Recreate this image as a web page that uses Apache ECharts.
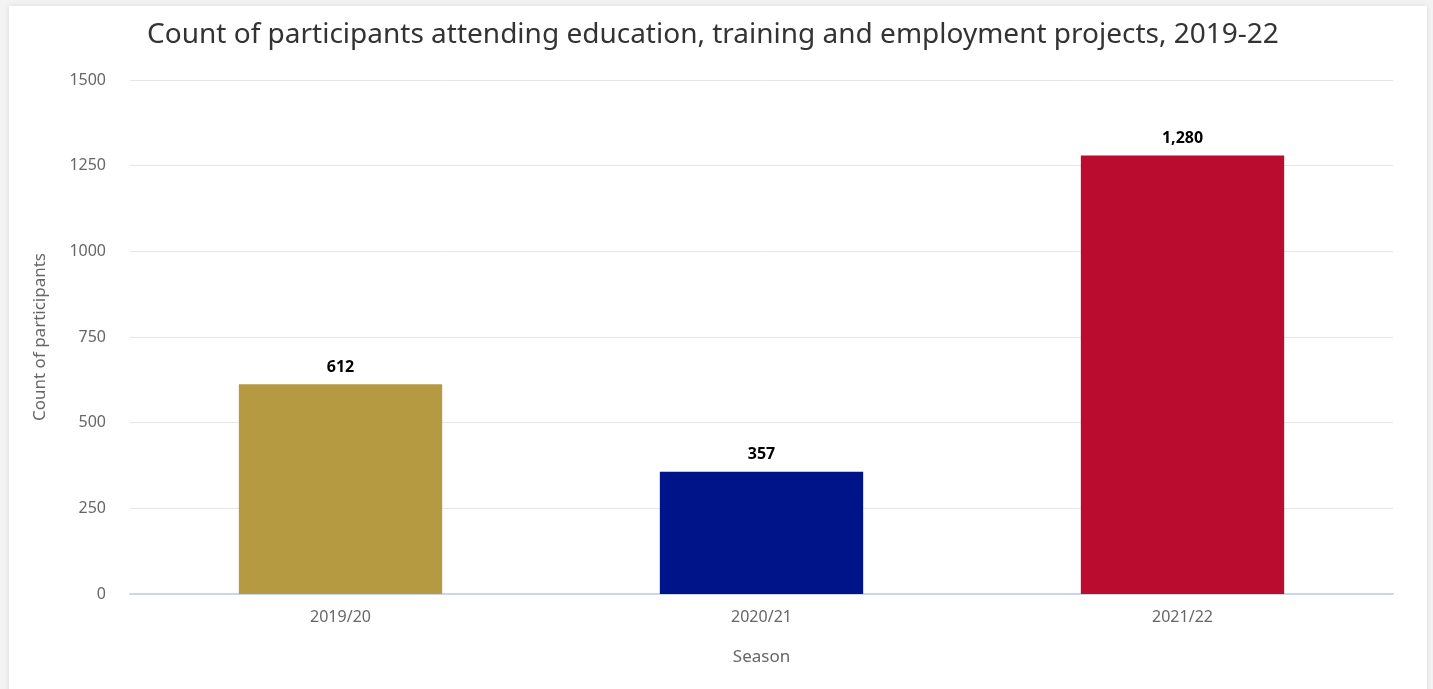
<!DOCTYPE html>
<html>
<head>
<meta charset="utf-8">
<script src="https://cdn.jsdelivr.net/npm/echarts@6/dist/echarts.min.js"></script>
<style>
  html, body { margin: 0; padding: 0; background: #f3f3f3; overflow: hidden; }
  #card { position: absolute; left: 9px; top: 6px; width: 1418px; height: 700px; background: #fff;
          box-shadow: 0 0 6px rgba(0,0,0,0.10); }
  #chart { position: absolute; left: 0; top: 0; width: 1433px; height: 689px; }
</style>
</head>
<body>
<div id="card"></div>
<div id="chart"></div>
<script>
const seasons = ['2019/20', '2020/21', '2021/22'];
const participants = [612, 357, 1280];
const barColors = ['#b59a41', '#001489', '#ba0c2f'];
const yTicks = [0, 250, 500, 750, 1000, 1250, 1500];

const fontFamily = '"Noto Sans", "Open Sans", sans-serif';
const chart = echarts.init(document.getElementById('chart'), null, { renderer: 'canvas' });

chart.setOption({
  backgroundColor: 'transparent',
  animation: false,
  title: {
    text: 'Count of participants attending education, training and employment projects, 2019-22',
    left: 708,
    textAlign: 'center',
    top: 16,
    textStyle: { fontFamily, fontSize: 28, fontWeight: 'normal', color: '#333333' }
  },
  grid: { left: 130, right: 40, top: 80, bottom: 95 },
  xAxis: {
    type: 'category',
    data: seasons,
    name: 'Season',
    nameLocation: 'middle',
    nameGap: 55,
    nameTextStyle: { fontFamily, fontSize: 17, color: '#666666' },
    axisLine: { show: true, lineStyle: { color: '#ccd6eb', width: 2 } },
    axisTick: { show: false },
    axisLabel: { fontFamily, fontSize: 16, color: '#666666', margin: 15 }
  },
  yAxis: {
    type: 'value',
    min: yTicks[0],
    max: yTicks[yTicks.length - 1],
    interval: yTicks[1] - yTicks[0],
    name: 'Count of participants',
    nameLocation: 'middle',
    nameGap: 81,
    nameTextStyle: { fontFamily, fontSize: 17, color: '#666666' },
    axisLine: { show: false },
    axisTick: { show: false },
    axisLabel: { fontFamily, fontSize: 16, color: '#666666', margin: 24, formatter: v => String(v) },
    splitLine: { lineStyle: { color: '#e6e6e6', width: 1 } }
  },
  series: [{
    type: 'bar',
    data: participants.map((v, i) => ({ value: v, itemStyle: { color: barColors[i] } })),
    barWidth: '48.3%',
    label: {
      show: true,
      position: 'top',
      distance: 9,
      fontFamily,
      fontSize: 16,
      fontWeight: 'bold',
      color: '#000000',
      formatter: p => p.value.toLocaleString('en-US')
    }
  }]
});
</script>
</body>
</html>
